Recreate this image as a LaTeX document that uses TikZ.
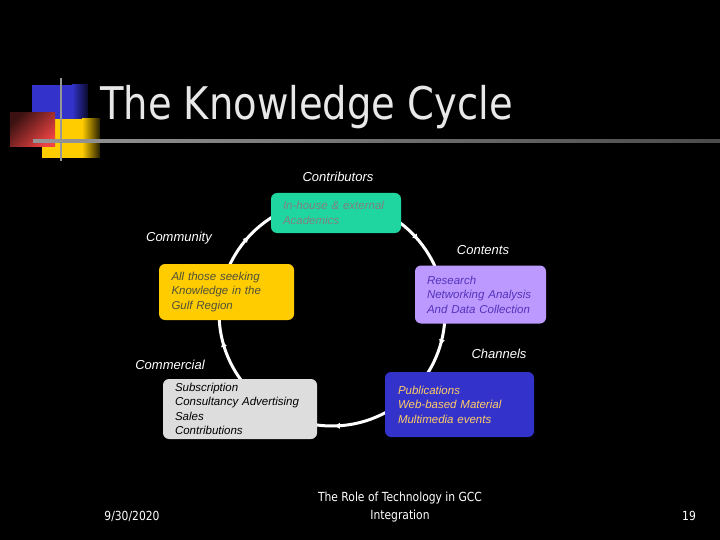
\documentclass[tikz,border=0pt]{standalone}
\usepackage{fontspec}
\setmainfont{Liberation Sans}
\newfontfamily\slidefont{DejaVu Sans}
\usetikzlibrary{decorations.markings,arrows.meta}

\definecolor{logoblue}{RGB}{51,51,204}
\definecolor{logored}{RGB}{238,68,68}
\definecolor{logoyellow}{RGB}{255,204,0}
\definecolor{rulegray}{RGB}{150,150,150}
\definecolor{titlegray}{RGB}{232,232,232}
\definecolor{boxgreen}{RGB}{32,214,160}
\definecolor{boxyellow}{RGB}{255,204,0}
\definecolor{boxpurple}{RGB}{187,153,255}
\definecolor{boxblue}{RGB}{51,51,204}
\definecolor{boxgray}{RGB}{221,221,221}
\definecolor{greentext}{RGB}{128,128,128}
\definecolor{yellowtext}{RGB}{80,80,60}
\definecolor{purpletext}{RGB}{85,51,187}
\definecolor{bluetext}{RGB}{255,204,102}

\begin{document}
\begin{tikzpicture}[x=1pt, y=-1pt, >=Stealth,
  every node/.style={font=\itshape\fontsize{11.5}{14.5}\selectfont},
  cyclebox/.style={rounded corners=6pt, align=left, inner xsep=12pt, inner ysep=0pt},
  phase/.style={text=white, font=\itshape\fontsize{13}{15}\selectfont},
  footer/.style={text=white, font=\slidefont\fontsize{12.5}{18}\selectfont, xscale=0.86, align=center},
  cycleline/.style={draw=white, line width=3pt}]

  % --- パラメータ定義 ---
  % 円の中心 (332, 313), 半径 113
  \def\rcycle{113}
  \coordinate (hub) at (332,313);

  % 0. 背景
  \fill[black] (0,0) rectangle (720,540);
  \useasboundingbox (0,0) rectangle (720,540);

  % 1. ロゴ（四角形とグラデーション）
  \fill[logoblue] (32,85) rectangle (72.5,120);
  \shade[left color=logoblue, right color=logoblue!20!black] (72,85) rectangle (88,120);
  \fill[logoyellow] (42,119) rectangle (82.5,158);
  \shade[left color=logoyellow, right color=logoyellow!15!black] (82,119) rectangle (100,158);
  \shade[top color=logored!25!black, bottom color=logored, shading angle=45] (10,113) rectangle (55,147);
  \draw[rulegray, line width=2.5pt] (61,78) -- (61,161);
  \shade[left color=rulegray, right color=rulegray!50!black] (33,139.8) rectangle (720,142.2);

  % 2. タイトル
  \node[anchor=base west, inner sep=0pt, text=titlegray, xscale=0.855,
    font=\slidefont\fontsize{45}{50}\selectfont] (title) at (100,120) {The Knowledge Cycle};

  % 3. サイクルの円（時計回りの矢印）
  \draw[cycleline, postaction={decorate}, decoration={markings,
    mark=at position 0.045 with {\arrow{Triangle[length=5pt,width=5.5pt]}},
    mark=at position 0.246 with {\arrow{Triangle[length=5pt,width=5.5pt]}},
    mark=at position 0.459 with {\arrow{Triangle[length=5pt,width=5.5pt]}},
    mark=at position 0.617 with {\arrow{Triangle[length=5pt,width=5.5pt]}},
    mark=at position 0.887 with {\arrow{Triangle[length=5pt,width=5.5pt]}}}]
    (hub) circle[radius=\rcycle];

  % 4. ボックス
  \node[cyclebox, fill=boxgreen, text=greentext, minimum width=130pt, minimum height=40pt,
    text width=106pt] (academics) at (336,213) {In-house \& external\\Academics};
  \node[cyclebox, fill=boxyellow, text=yellowtext, minimum width=135pt, minimum height=56pt,
    text width=110pt] (seekers) at (226.5,292) {All those seeking\\Knowledge in the\\Gulf Region};
  \node[cyclebox, fill=boxpurple, text=purpletext, minimum width=131pt, minimum height=58pt,
    text width=107pt] (research) at (480.5,294.5) {Research\\Networking Analysis\\And Data Collection};
  \node[cyclebox, fill=boxblue, text=bluetext, minimum width=149pt, minimum height=65pt,
    text width=123pt] (media) at (459.5,404.5) {Publications\\Web-based Material\\Multimedia events};
  \node[cyclebox, fill=boxgray, text=black, minimum width=154pt, minimum height=60pt,
    text width=130pt] (revenue) at (240,409) {Subscription\\Consultancy Advertising\\Sales\\Contributions};

  % 5. 各段階のラベル
  \node[phase] (contributors) at (338,177) {Contributors};
  \node[phase] (community) at (179,238) {Community};
  \node[phase] (contents) at (483,250) {Contents};
  \node[phase] (channels) at (499,354) {Channels};
  \node[phase] (commercial) at (170,365) {Commercial};

  % 6. フッター
  \node[footer] (date) at (132,516) {9/30/2020};
  \node[footer] (topic) at (400,507) {The Role of Technology in GCC\\Integration};
  \node[footer] (page) at (689,516) {19};

\end{tikzpicture}
\end{document}
